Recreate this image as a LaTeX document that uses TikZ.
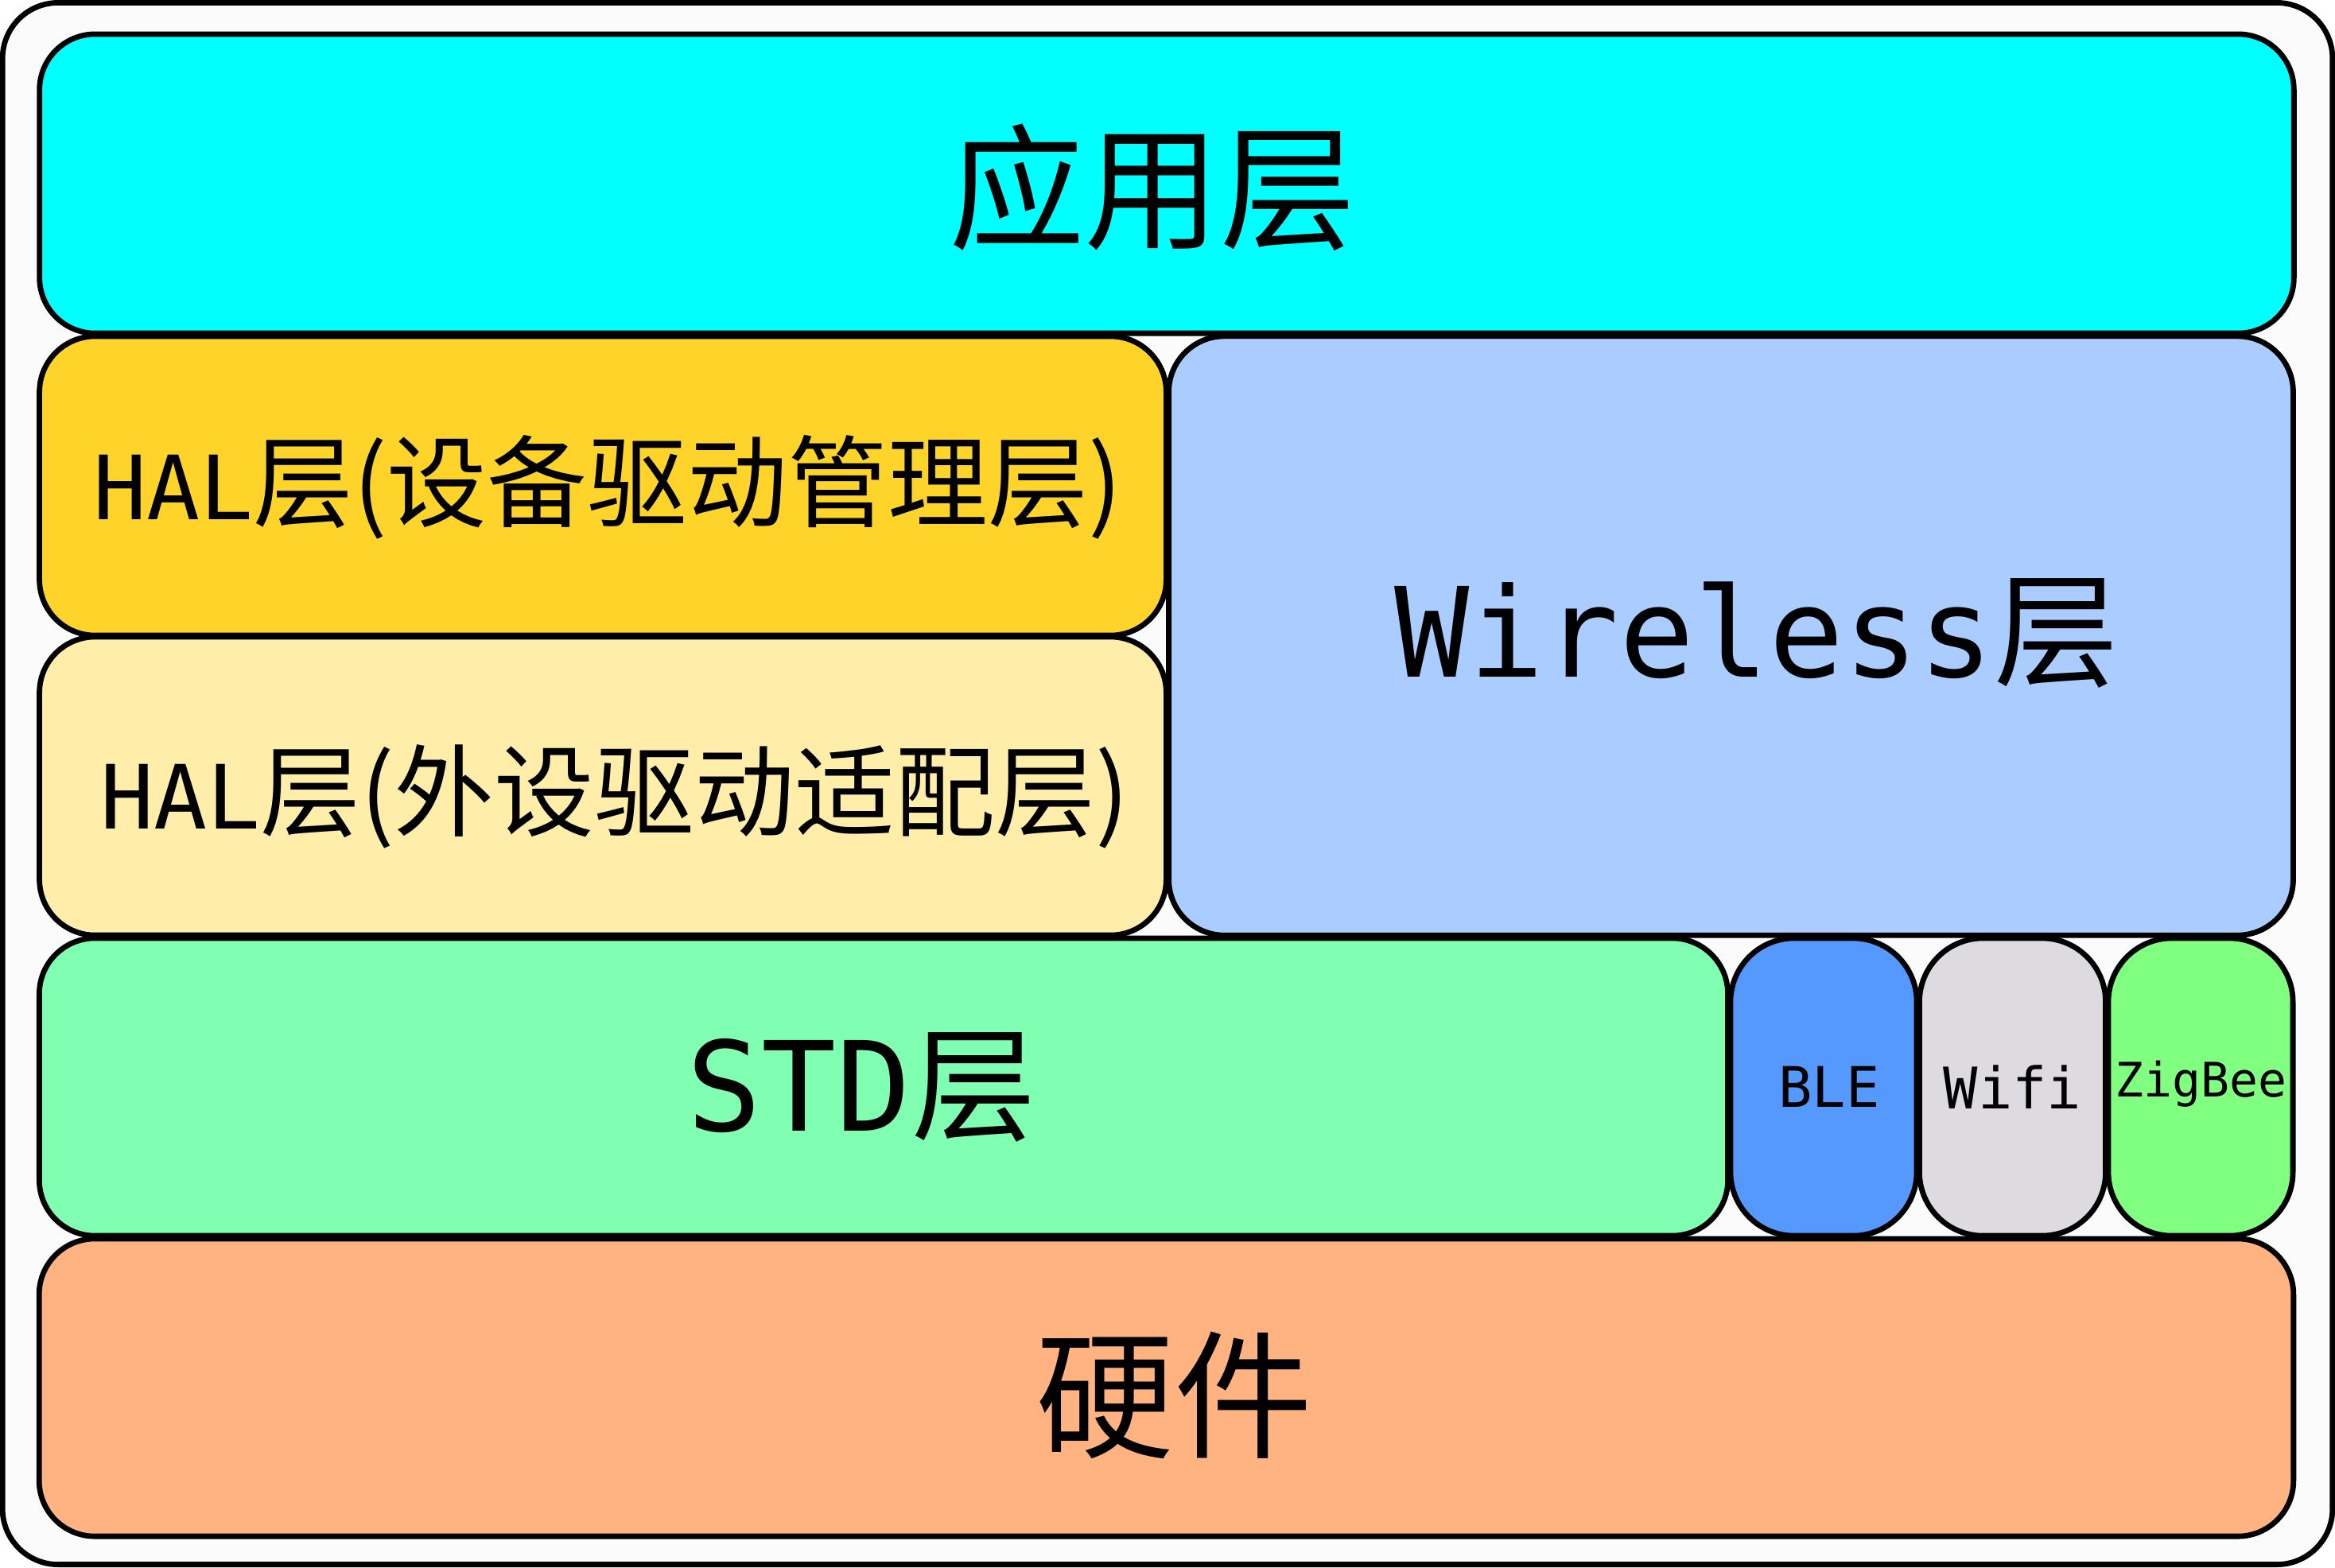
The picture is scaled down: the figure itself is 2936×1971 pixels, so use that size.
\documentclass[tikz,border=0pt]{standalone}
\usepackage{fontspec}
\setmainfont{DejaVu Sans Mono}
\newfontfamily\cjk{Noto Sans CJK SC}
\newcommand\zhtxt[1]{{\cjk #1}}
\definecolor{framebg}{HTML}{FBFBFB}
\definecolor{appc}{HTML}{00FFFF}
\definecolor{halone}{HTML}{FFD42A}
\definecolor{haltwo}{HTML}{FFEEAA}
\definecolor{wlc}{HTML}{AACCFF}
\definecolor{stdc}{HTML}{80FFB3}
\definecolor{blec}{HTML}{5599FF}
\definecolor{wific}{HTML}{DDDAE0}
\definecolor{zigc}{HTML}{80FF80}
\definecolor{hwc}{HTML}{FFB380}
\begin{document}
\begin{tikzpicture}[x=0.01cm,y=-0.01cm,
  layer/.style={draw=black, line width=0.068cm, rounded corners=0.7cm, inner sep=0pt, outer sep=0pt},
  pill/.style={layer, rounded corners=0.8cm},
  lbl/.style={inner sep=0pt, outer sep=0pt, text=black}]
\useasboundingbox (0,0) rectangle (2936,1971);
\node[layer, fill=framebg, minimum width=29.28cm, minimum height=19.63cm] (frame) at (1468,985.5) {};
\node[layer, fill=appc, minimum width=28.33cm, minimum height=3.76cm] (app) at (1467,231) {};
\node[layer, fill=halone, minimum width=14.16cm, minimum height=3.76cm] (halA) at (758,611) {};
\node[layer, fill=haltwo, minimum width=14.16cm, minimum height=3.75cm] (halB) at (758,988.5) {};
\node[layer, fill=wlc, minimum width=14.13cm, minimum height=7.53cm] (wl) at (2176.5,799.5) {};
\node[layer, fill=stdc, minimum width=21.22cm, minimum height=3.74cm] (std) at (1111,1367) {};
\node[pill, fill=blec, minimum width=2.34cm, minimum height=3.74cm] (ble) at (2293,1367) {};
\node[pill, fill=wific, minimum width=2.34cm, minimum height=3.74cm] (wifi) at (2530.5,1367) {};
\node[pill, fill=zigc, minimum width=2.32cm, minimum height=3.74cm] (zig) at (2767,1367) {};
\node[layer, fill=hwc, minimum width=28.33cm, minimum height=3.74cm] (hw) at (1466.5,1745) {};
% labels
\node[lbl, font=\fontsize{48.5pt}{48.5pt}\selectfont\cjk] (tapp) at ([xshift=-0.18cm,yshift=-0.05cm]app.center) {应用层};
\node[lbl, font=\fontsize{31.7pt}{31.7pt}\selectfont] (thalA) at ([xshift=0.06cm,yshift=-0.02cm]halA.center) {HAL{\fontsize{35.8pt}{35.8pt}\selectfont\cjk 层(设备驱动管理层)}};
\node[lbl, font=\fontsize{31.7pt}{31.7pt}\selectfont] (thalB) at ([xshift=0.15cm,yshift=-0.13cm]halB.center) {HAL{\fontsize{35.8pt}{35.8pt}\selectfont\cjk 层(外设驱动适配层)}};
\node[lbl, font=\fontsize{44.5pt}{44.5pt}\selectfont] (twl) at ([xshift=0.32cm,yshift=0.03cm]wl.center) {Wireless\zhtxt{层}};
\node[lbl, font=\fontsize{44.5pt}{44.5pt}\selectfont] (tstd) at ([xshift=-0.28cm]std.center) {STD\zhtxt{层}};
\node[lbl, font=\fontsize{20pt}{20pt}\selectfont] (tble) at ([xshift=0.07cm]ble.center) {BLE};
\node[lbl, font=\fontsize{20.5pt}{20.5pt}\selectfont] (twifi) at (wifi.center) {Wifi};
\node[lbl, font=\fontsize{17pt}{17pt}\selectfont] (tzig) at ([yshift=0.04cm]zig.center) {ZigBee};
\node[lbl, font=\fontsize{49.5pt}{49.5pt}\selectfont\cjk] (thw) at ([xshift=0.1cm,yshift=-0.1cm]hw.center) {硬件};
\end{tikzpicture}
\end{document}
